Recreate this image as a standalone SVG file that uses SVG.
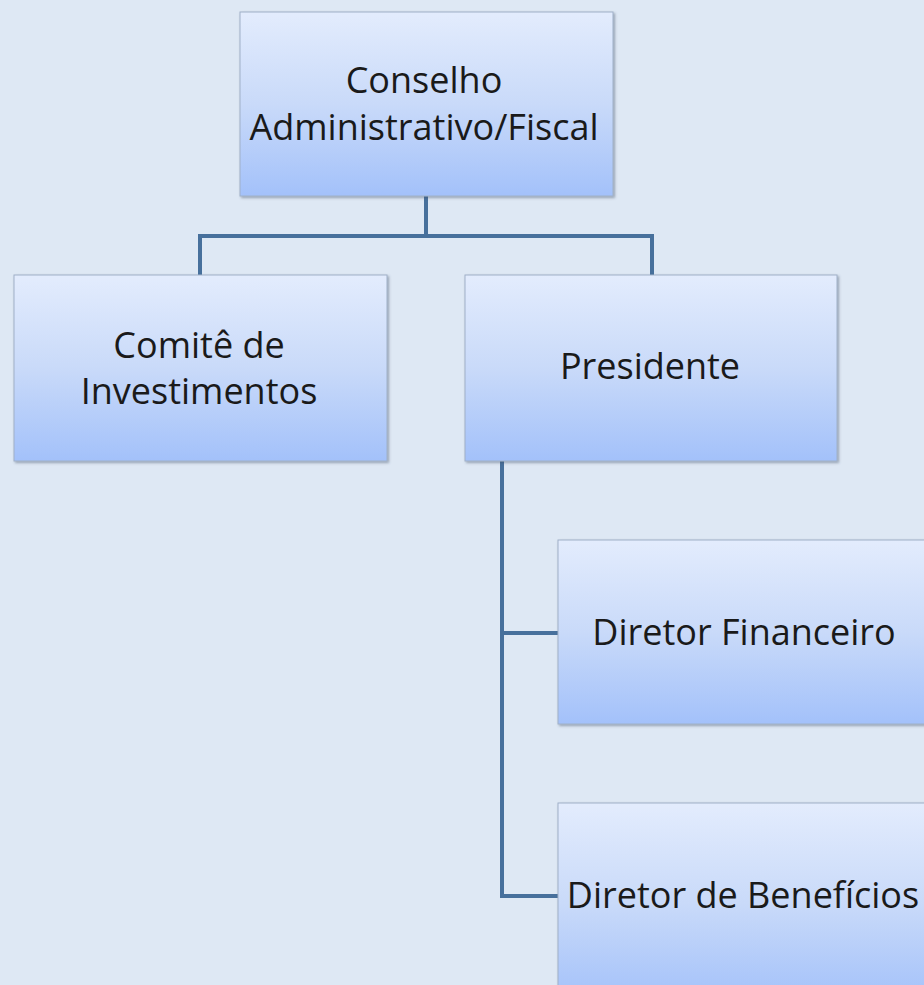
<svg xmlns="http://www.w3.org/2000/svg" width="924" height="985" viewBox="0 0 924 985">
<defs>
<linearGradient id="g" x1="0" y1="0" x2="0" y2="1">
<stop offset="0" stop-color="#e3ecfd"/>
<stop offset="0.5" stop-color="#c9daf9"/>
<stop offset="1" stop-color="#a3c1fa"/>
</linearGradient>
<filter id="sh" x="-5%" y="-5%" width="110%" height="110%">
<feDropShadow dx="1.5" dy="1.5" stdDeviation="1.2" flood-color="#3d4a60" flood-opacity="0.45"/>
</filter>
<style>
.box{fill:url(#g);stroke:#9fb0c8;stroke-width:1;filter:url(#sh)}
.t{font-family:"Open Sans","Noto Sans","Liberation Sans",sans-serif;font-size:36px;fill:#1a1a1a;text-anchor:middle}
.c{fill:none;stroke:#47709c;stroke-width:4}
</style>
</defs>
<rect width="924" height="985" fill="#dee8f4"/>
<g id="connectors">
<path class="c" d="M426 196 V236 M200 275 V236 H652 V275"/>
<path class="c" d="M502 461 V896 H558 M502 633 H558"/>
</g>
<g id="conselho">
<rect class="box" x="240" y="12" width="373" height="184"/>
<text class="t" x="424" y="93">Conselho</text>
<text class="t" x="424" y="140">Administrativo/Fiscal</text>
</g>
<g id="comite">
<rect class="box" x="14" y="275" width="373" height="186"/>
<text class="t" x="199" y="358">Comitê de</text>
<text class="t" x="199" y="404">Investimentos</text>
</g>
<g id="presidente">
<rect class="box" x="465" y="275" width="372" height="186"/>
<text class="t" x="650" y="379">Presidente</text>
</g>
<g id="diretor-financeiro">
<rect class="box" x="558" y="540" width="400" height="184"/>
<text class="t" x="744" y="645">Diretor Financeiro</text>
</g>
<g id="diretor-beneficios">
<rect class="box" x="558" y="803" width="400" height="200"/>
<text class="t" x="743" y="908">Diretor de Benefícios</text>
</g>
</svg>
